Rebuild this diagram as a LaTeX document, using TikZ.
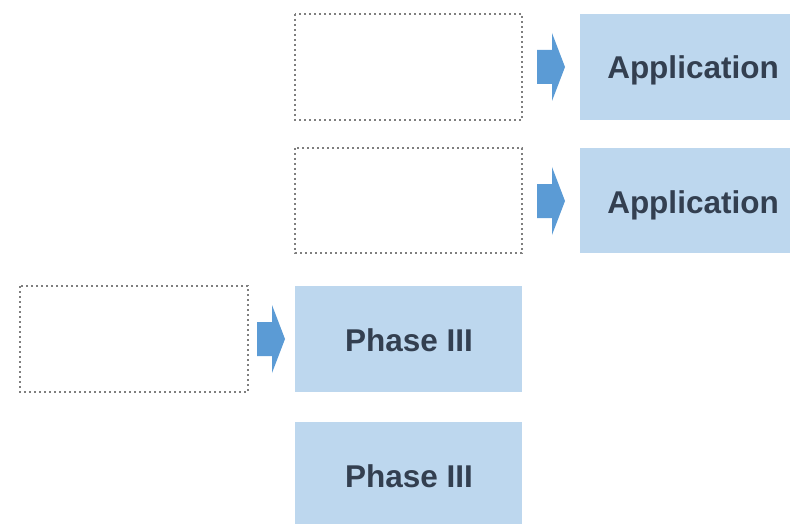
\documentclass[tikz,border=0pt]{standalone}
\usepackage{fontspec}
\setmainfont{Liberation Sans}
\definecolor{boxblue}{HTML}{BDD7EE}
\definecolor{arrowblue}{HTML}{5B9BD5}
\definecolor{txtdark}{HTML}{333F50}
\definecolor{dotgray}{HTML}{7F7F7F}
\begin{document}
\begin{tikzpicture}[x=1pt,y=-1pt,
  dotbox/.style={draw=dotgray,line width=2.2pt,dash pattern=on 2.2pt off 2.8pt,fill=none},
  bluebox/.style={fill=boxblue,draw=none},
  lbl/.style={font=\fontsize{31.5}{36}\selectfont\bfseries,text=txtdark,inner sep=0pt,anchor=base},
  blockarrow/.style={fill=arrowblue,draw=none}]
\useasboundingbox (0,0) rectangle (790,524);
% dotted boxes
\draw[dotbox] (295,14) rectangle (522,120);
\draw[dotbox] (295,148) rectangle (522,253);
\draw[dotbox] (20,286) rectangle (248,392);
% blue boxes
\fill[bluebox] (580,14) rectangle (807,120);
\fill[bluebox] (580,148) rectangle (807,253);
\fill[bluebox] (295,286) rectangle (522,392);
\fill[bluebox] (295,422) rectangle (522,528);
% labels
\node[lbl] (app1) at (693,79) {Application};
\node[lbl] (app2) at (693,213) {Application};
\node[lbl] (ph1) at (409,351) {Phase III};
\node[lbl] (ph2) at (409,487) {Phase III};
% block arrows
\foreach \x/\y in {537/67, 537/201, 257/339}{
  \fill[blockarrow] (\x,\y-17) -- (\x+15,\y-17) -- (\x+15,\y-34) -- (\x+28,\y)
     -- (\x+15,\y+34) -- (\x+15,\y+17) -- (\x,\y+17) -- cycle;
}
\end{tikzpicture}
\end{document}
